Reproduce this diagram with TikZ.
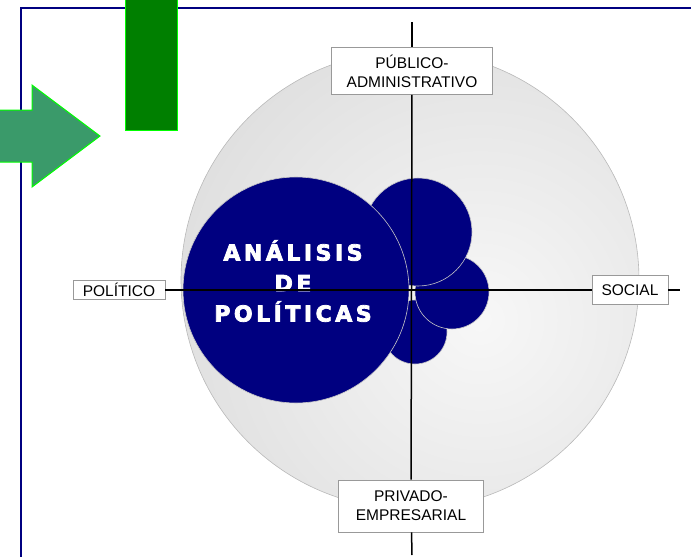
\documentclass[tikz,border=0pt]{standalone}
\usepackage{fontspec}
\setmainfont{Liberation Sans}
\newfontfamily\titlefont{DejaVu Sans}[UprightFont=* Bold, FakeBold=3.5, LetterSpace=16]
\definecolor{navyblue}{HTML}{000080}
\definecolor{seagreen}{HTML}{3A9A6A}
\definecolor{bargreen}{HTML}{007F00}
\definecolor{limegreen}{HTML}{00FF00}

\begin{document}
\begin{tikzpicture}[x=1pt,y=-1pt,
    axisbox/.style={draw=gray!80, fill=white, line width=0.8pt, inner sep=0pt, align=center, font=\fontsize{15.5}{19}\selectfont},
    axisline/.style={black, line width=1.5pt},
    disc/.style={draw=gray!45, line width=0.6pt, fill=navyblue}]
        \useasboundingbox (0,0) rectangle (691,557);

        % Frame of the slide
        \draw[navyblue, line width=2pt] (21,557) -- (21,8) -- (691,8);

        % Green arrow and green bar
        \draw[limegreen, fill=seagreen, line width=1pt] (-2,110) -- (32,110) -- (32,85) -- (100,136) -- (32,187) -- (32,162) -- (-2,162) -- cycle;
        \draw[limegreen, fill=bargreen, line width=1pt] (125,-2) rectangle (177,130);

        % Grey disc with soft shading
        \begin{scope}
            \clip (410,280) circle (229);
            \shade[inner color=gray!6, outer color=gray!34] (480,320) circle (470);
        \end{scope}
        \draw[gray!55, line width=0.6pt] (410,280) circle (229);

        % Dark blue circles
        \foreach \cx/\cy/\r in {415/332/32, 452/292/37, 418/232/54, 296/290/113}
            \draw[disc] (\cx,\cy) circle (\r);
        \node[text=white, font=\titlefont\fontsize{22}{30.5}\selectfont, align=center] (title) at (293,281) {ANÁLISIS\\DE\\POLÍTICAS};

        % Labels on the axes
        \node[axisbox, minimum width=161pt, minimum height=47pt] (pub) at (412,71) {PÚBLICO-\\ADMINISTRATIVO};
        \node[axisbox, minimum width=145pt, minimum height=52pt] (priv) at (411,506) {PRIVADO-\\EMPRESARIAL};
        \node[axisbox, minimum width=92pt, minimum height=19pt] (pol) at (119,290) {POLÍTICO};
        \node[axisbox, minimum width=76pt, minimum height=29pt] (soc) at (630,290) {SOCIAL};
        \coordinate (ntop) at (412,22);
        \coordinate (nbot) at (412,555);
        \coordinate (eend) at (680,290);

        % Axes
        \draw[axisline] (ntop) -- (pub);
        \draw[axisline] (pub) -- (priv);
        \draw[axisline] (priv) -- (nbot);
        \draw[axisline] (pol) -- (soc);
        \draw[axisline] (soc) -- (eend);
\end{tikzpicture}
\end{document}
